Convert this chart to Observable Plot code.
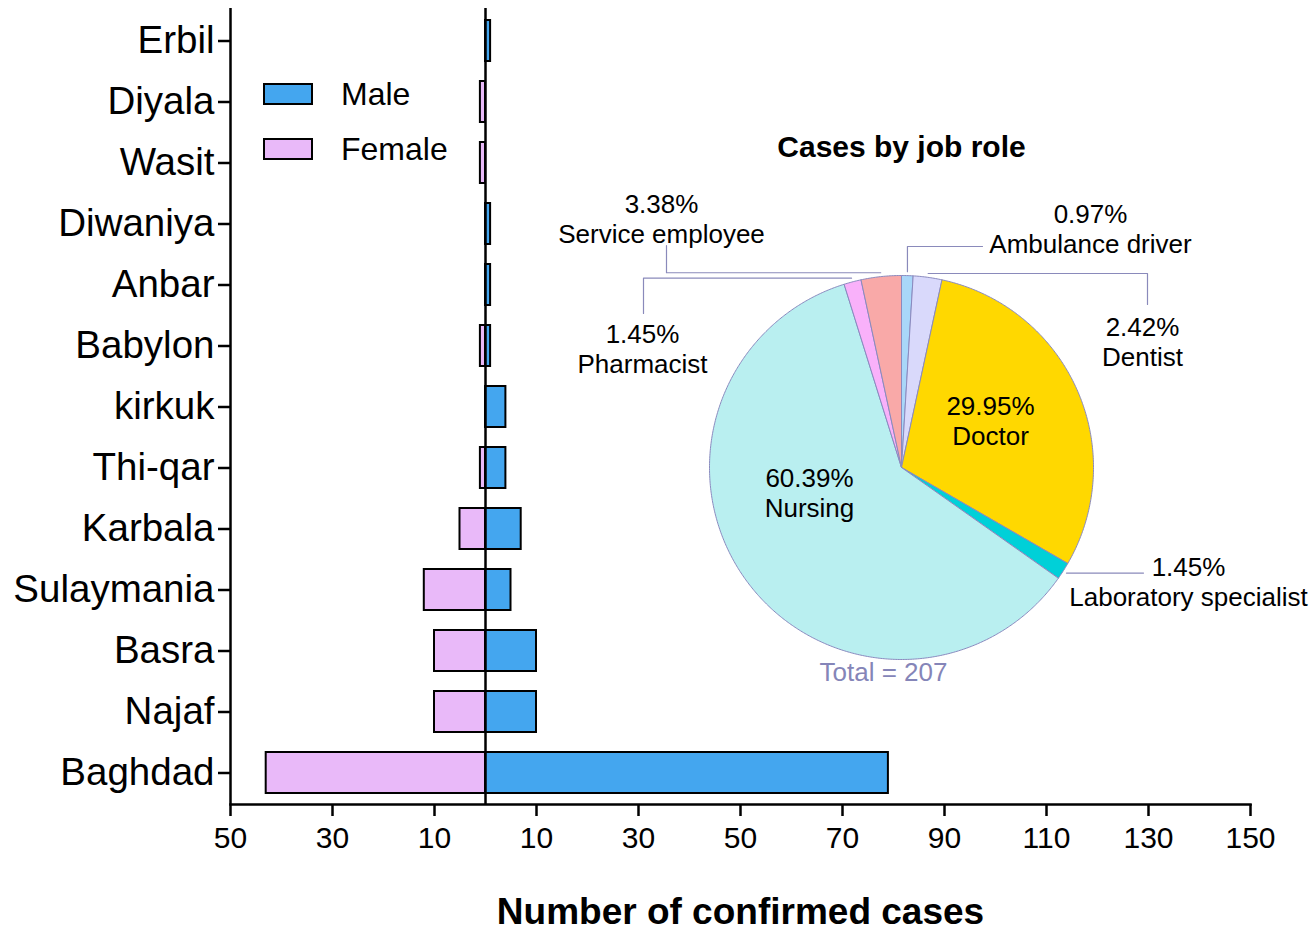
<!DOCTYPE html>
<html><head><meta charset="utf-8">
<script src="https://cdn.jsdelivr.net/npm/d3@7"></script>
<script src="https://cdn.jsdelivr.net/npm/@observablehq/plot@0.6"></script>
<style>
body{margin:0;background:#fff;font-family:"Liberation Sans",Arial,sans-serif;}
#wrap{position:relative;width:1316px;height:930px;overflow:hidden;background:#fff;}
#wrap > svg{position:absolute;left:0;top:0;}
.t{position:absolute;white-space:nowrap;line-height:1;color:#000;font-size:32px;}
.sw{position:absolute;box-sizing:border-box;width:50px;height:22px;border:2px solid #000;}
</style></head><body><div id="wrap"></div>
<script>
// ---- data ----
const regions = ["Erbil","Diyala","Wasit","Diwaniya","Anbar","Babylon","kirkuk","Thi-qar","Karbala","Sulaymania","Basra","Najaf","Baghdad"];
const maleCases   = [1,0,0,1,1,1,4,4,7,5,10,10,79];
const femaleCases = [0,1,1,0,0,1,0,1,5,12,10,10,43];
const sexes = ["Male","Female"];
const sexColors = ["#44a6ef","#e9b9f9"];
const xTicks = [-50,-30,-10,10,30,50,70,90,110,130,150];
const roles = ["Ambulance driver","Dentist","Doctor","Laboratory specialist","Nursing","Pharmacist","Service employee"];
const roleCases = [2,5,62,3,125,3,7];
const roleColors = ["#a9d7f9","#d9d9fb","#ffd800","#00d0d8","#b9eff0","#f9b1fa","#f9a9a8"];

const FONT = '"Liberation Sans", Arial, sans-serif';
const W = 1316, H = 930;
const wrap = document.getElementById("wrap");

// ---- bar chart ----
const rows = regions.flatMap((r, i) => [
  {region: r, sex: "Male", value: maleCases[i]},
  {region: r, sex: "Female", value: -femaleCases[i]}
]).filter(d => d.value !== 0);

const main = Plot.plot({
  width: W, height: H,
  marginLeft: 230, marginRight: 66, marginTop: 8, marginBottom: 126,
  style: {fontFamily: FONT, color: "#000", background: "transparent", overflow: "visible"},
  x: {domain: [-50, 150]},
  y: {domain: regions, padding: 0},
  color: {domain: sexes, range: sexColors},
  marks: [
    Plot.barX(rows, {x: "value", y: "region", fill: "sex", stroke: "#000", strokeWidth: 2, insetTop: 10, insetBottom: 10}),
    Plot.ruleX([0], {stroke: "#000", strokeWidth: 2.5}),
    Plot.ruleX([-50], {stroke: "#000", strokeWidth: 2.5}),
    Plot.frame({anchor: "bottom", stroke: "#000", strokeWidth: 2.5}),
    Plot.axisX({ticks: xTicks, tickFormat: d => Math.abs(d), tickSize: 12, tickPadding: 10, fontSize: 30, label: null, strokeWidth: 2.5}),
    Plot.axisY({tickSize: 12, tickPadding: 4, fontSize: 38.5, label: null, strokeWidth: 2.5}),
    Plot.text(["Number of confirmed cases"], {frameAnchor: "bottom", dy: 119, lineAnchor: "bottom", fontSize: 37, fontWeight: "bold", fill: "#000"})
  ]
});
wrap.appendChild(main);

// legend
sexes.forEach((s, i) => {
  const sw = document.createElement("div");
  sw.className = "sw";
  sw.style.left = "263px"; sw.style.top = (83 + i * 55) + "px";
  sw.style.background = sexColors[i];
  wrap.appendChild(sw);
  const t = document.createElement("div");
  t.className = "t"; t.textContent = s;
  t.style.left = "341px"; t.style.top = (78 + i * 55) + "px";
  wrap.appendChild(t);
});

// ---- pie chart ----
const PCX = 901, PCY = 467, PR = 192;
const px = x => x - PCX, py = y => PCY - y;
const total = d3.sum(roleCases);
const pct = v => d3.format(".2f")(v / total * 100) + "%";
const arcs = d3.pie().sort(null).value(d => d)(roleCases);

const slicePts = arcs.flatMap((a, i) => {
  const n = Math.max(2, Math.ceil((a.endAngle - a.startAngle) / (Math.PI / 360)));
  const pts = [{role: roles[i], x: 0, y: 0}];
  for (let k = 0; k <= n; k++) {
    const t = a.startAngle + (a.endAngle - a.startAngle) * k / n;
    pts.push({role: roles[i], x: PR * Math.sin(t), y: PR * Math.cos(t)});
  }
  pts.push({role: roles[i], x: 0, y: 0});
  return pts;
});

const rim = i => {
  const a = (arcs[i].startAngle + arcs[i].endAngle) / 2, r = PR * 1.02;
  return {x: r * Math.sin(a), y: r * Math.cos(a)};
};
// callout layout (pixel positions of elbows and label baselines)
const callouts = [
  {role: "Service employee", mode: "h", x2: 666, y2: 245, lx: 661, ly: 242},
  {role: "Pharmacist", mode: "h", x2: 643, y2: 313, lx: 642, ly: 372},
  {role: "Ambulance driver", mode: "v", x2: 982, y2: 246, lx: 1090, ly: 252},
  {role: "Dentist", mode: "h", x2: 1147, y2: 304, lx: 1142, ly: 365},
  {role: "Laboratory specialist", mode: "h", x2: 1143, y2: null, lx: 1188, ly: 605},
  {role: "Doctor", mode: null, lx: 990, ly: 444},
  {role: "Nursing", mode: null, lx: 809, ly: 516}
];
const leaderPts = callouts.filter(c => c.mode).flatMap(c => {
  const s = rim(roles.indexOf(c.role));
  const pts = [{role: c.role, ...s}];
  if (c.mode === "h") {
    pts.push({role: c.role, x: px(c.x2), y: s.y});
    if (c.y2 != null) pts.push({role: c.role, x: px(c.x2), y: py(c.y2)});
  } else {
    pts.push({role: c.role, x: s.x, y: py(c.y2)});
    pts.push({role: c.role, x: px(c.x2), y: py(c.y2)});
  }
  return pts;
});
const labels = callouts.map(c => {
  const i = roles.indexOf(c.role);
  return {x: px(c.lx), y: py(c.ly), text: pct(roleCases[i]) + "\n" + c.role};
});

const pie = Plot.plot({
  width: W, height: H, margin: 0,
  style: {fontFamily: FONT, color: "#000", background: "transparent", overflow: "visible"},
  x: {domain: [-PCX, W - PCX], axis: null},
  y: {domain: [PCY - H, PCY], axis: null},
  color: {domain: roles, range: roleColors},
  marks: [
    Plot.line(slicePts, {x: "x", y: "y", z: "role", fill: "role", stroke: "#8a8abf", strokeWidth: 1, curve: "linear"}),
    Plot.line(leaderPts, {x: "x", y: "y", z: "role", stroke: "#8a8abb", strokeWidth: 1.2}),
    Plot.text(labels, {x: "x", y: "y", text: "text", fontSize: 26, lineHeight: 30 / 26, lineAnchor: "bottom", textAnchor: "middle", fill: "#000"}),
    Plot.text([`Total = ${total}`], {x: px(883), y: py(680), lineAnchor: "bottom", fontSize: 26, fill: "#8585b8"}),
    Plot.text(["Cases by job role"], {x: px(901), y: py(156), lineAnchor: "bottom", fontSize: 30, fontWeight: "bold", fill: "#000"})
  ]
});
wrap.appendChild(pie);
</script></body></html>
